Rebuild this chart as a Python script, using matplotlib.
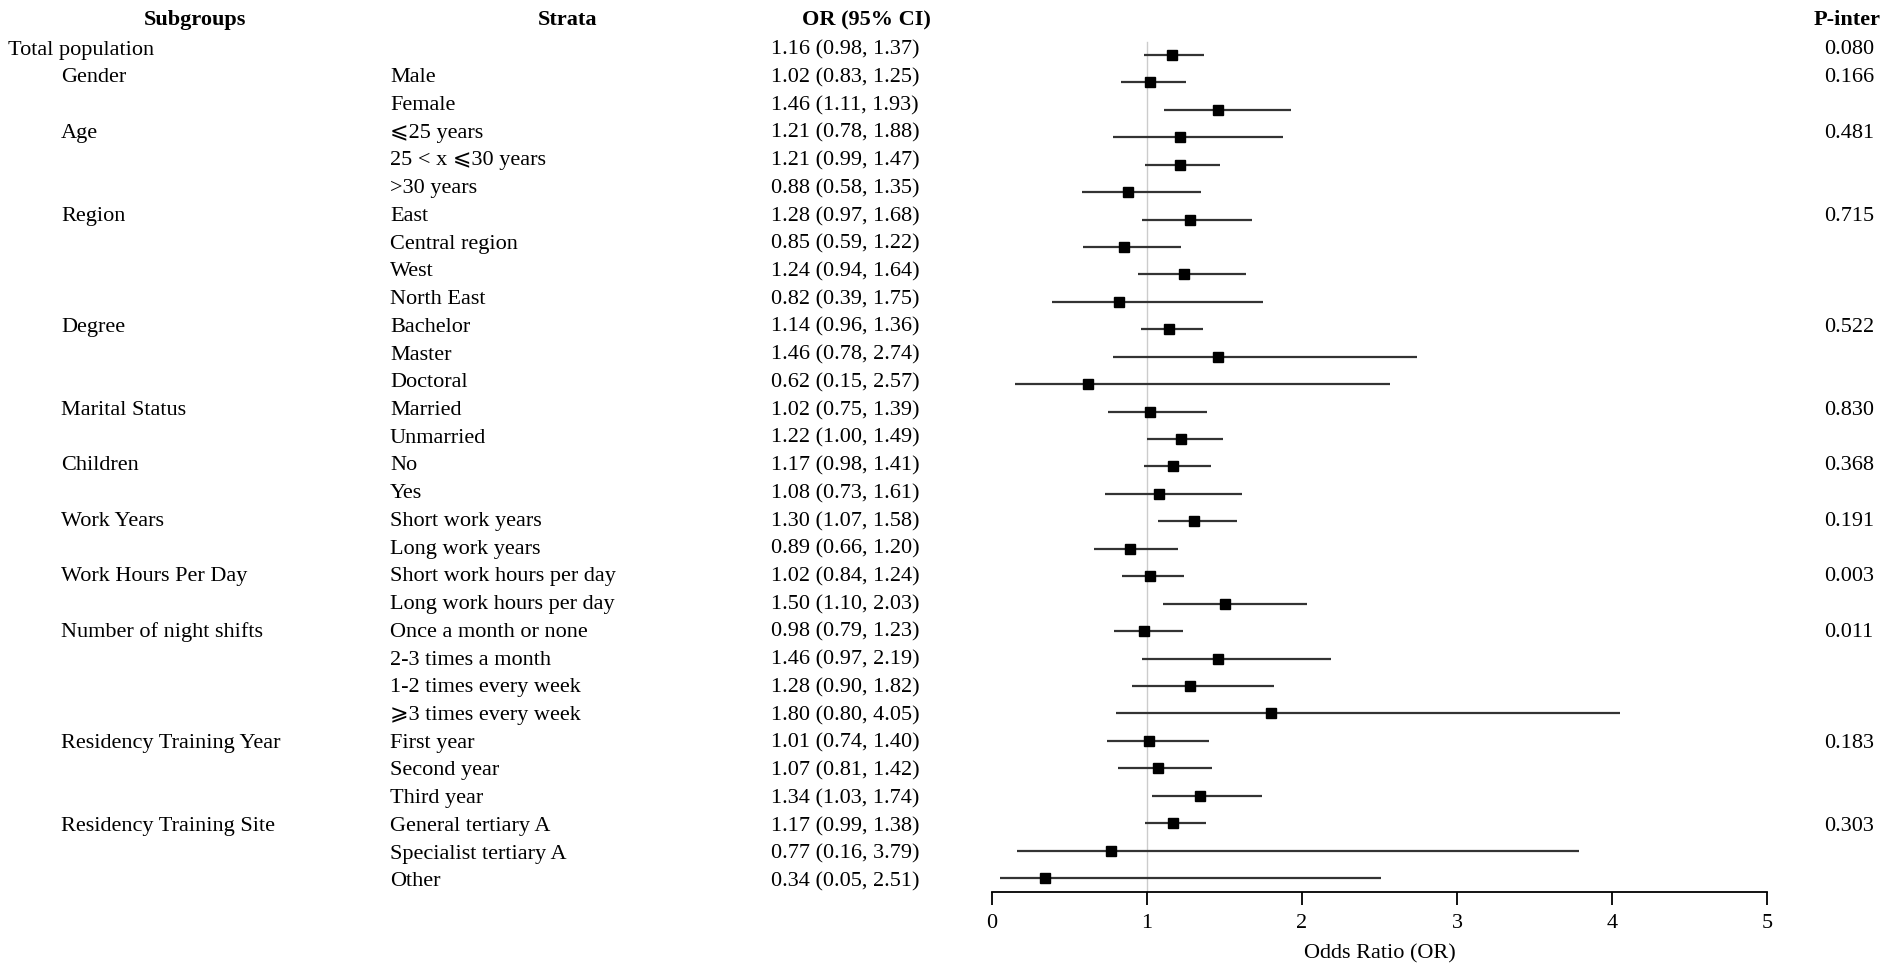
import matplotlib
matplotlib.use('Agg')
import matplotlib.pyplot as plt
from matplotlib import transforms

plt.rcParams['font.family'] = ['Liberation Serif', 'DejaVu Serif', 'DejaVu Sans']

# data
subgroups = ['Total population', 'Gender', '', 'Age', '', '', 'Region', '', '', '',
             'Degree', '', '', 'Marital Status', '', 'Children', '', 'Work Years', '',
             'Work Hours Per Day', '', 'Number of night shifts', '', '', '',
             'Residency Training Year', '', '', 'Residency Training Site', '', '']
strata = ['', 'Male', 'Female', '⩽25 years', '25 < x ⩽30 years', '>30 years',
          'East', 'Central region', 'West', 'North East',
          'Bachelor', 'Master', 'Doctoral', 'Married', 'Unmarried', 'No', 'Yes',
          'Short work years', 'Long work years',
          'Short work hours per day', 'Long work hours per day',
          'Once a month or none', '2-3 times a month', '1-2 times every week', '⩾3 times every week',
          'First year', 'Second year', 'Third year',
          'General tertiary A', 'Specialist tertiary A', 'Other']
odds = [1.16, 1.02, 1.46, 1.21, 1.21, 0.88, 1.28, 0.85, 1.24, 0.82, 1.14, 1.46, 0.62,
        1.02, 1.22, 1.17, 1.08, 1.30, 0.89, 1.02, 1.50, 0.98, 1.46, 1.28, 1.80,
        1.01, 1.07, 1.34, 1.17, 0.77, 0.34]
lower = [0.98, 0.83, 1.11, 0.78, 0.99, 0.58, 0.97, 0.59, 0.94, 0.39, 0.96, 0.78, 0.15,
         0.75, 1.00, 0.98, 0.73, 1.07, 0.66, 0.84, 1.10, 0.79, 0.97, 0.90, 0.80,
         0.74, 0.81, 1.03, 0.99, 0.16, 0.05]
upper = [1.37, 1.25, 1.93, 1.88, 1.47, 1.35, 1.68, 1.22, 1.64, 1.75, 1.36, 2.74, 2.57,
         1.39, 1.49, 1.41, 1.61, 1.58, 1.20, 1.24, 2.03, 1.23, 2.19, 1.82, 4.05,
         1.40, 1.42, 1.74, 1.38, 3.79, 2.51]
p_inter = ['0.080', '0.166', '', '0.481', '', '', '0.715', '', '', '', '0.522', '', '',
           '0.830', '', '0.368', '', '0.191', '', '0.003', '', '0.011', '', '', '',
           '0.183', '', '', '0.303', '', '']

W, H = 1902, 976
fig = plt.figure(figsize=(W / 100, H / 100), dpi=100)
ax = fig.add_axes([992 / W, (H - 892) / H, (1767 - 992) / W, 892 / H])

n = len(odds)
rows = list(range(n))
for i in rows:
    ax.plot([lower[i], upper[i]], [i, i], color='#333333', lw=1.6, solid_capstyle='butt')
ax.plot(odds, rows, 's', color='black', markersize=7.5, linestyle='none')
ax.plot([1, 1], [-0.47, n - 0.49], color='#cccccc', lw=1, zorder=0)

ax.set_xlim(0, 5)
ax.set_ylim(n - 0.49, -2.0)
ax.set_xticks([0, 1, 2, 3, 4, 5])
ax.set_yticks([])
for s in ['top', 'right', 'left']:
    ax.spines[s].set_visible(False)
ax.spines['bottom'].set_bounds(0, 5)
ax.spines['bottom'].set_linewidth(1.3)
ax.tick_params(axis='x', direction='out', length=9, width=1.3, pad=7, labelsize=16)
ax.set_xlabel('Odds Ratio (OR)', fontsize=16, labelpad=8)

# the text table uses a slightly wider row pitch than the plot panel
fs = 16
row_top, row_step = 50, 27.73

def put(xpix, ypix, s, **kw):
    fig.text(xpix / W, 1 - ypix / H, s, fontsize=fs, va='center', **kw)

# headers
put(195, 20, 'Subgroups', ha='center', fontweight='bold')
put(568, 20, 'Strata', ha='center', fontweight='bold')
put(866, 20, 'OR (95% CI)', ha='center', fontweight='bold')
put(1847, 20, 'P-inter', ha='center', fontweight='bold')

for i in rows:
    y = row_top + row_step * i
    if subgroups[i]:
        put(8 if i == 0 else 61, y, subgroups[i], ha='left')
    if strata[i]:
        put(390, y, strata[i], ha='left')
    put(771, y, '%.2f (%.2f, %.2f)' % (odds[i], lower[i], upper[i]), ha='left')
    if p_inter[i]:
        put(1824, y, p_inter[i], ha='left')

fig.savefig('out.png', dpi=100)
